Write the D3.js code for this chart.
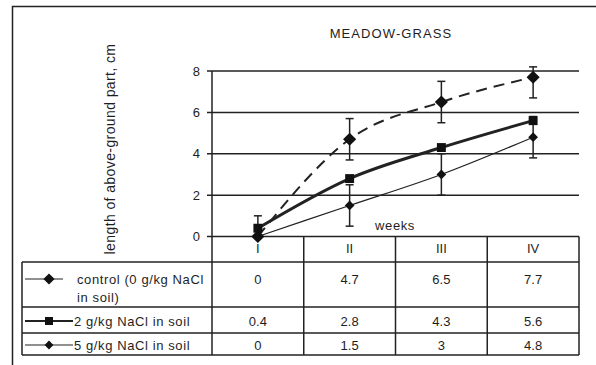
<!DOCTYPE html>
<html>
<head>
<meta charset="utf-8">
<script src="https://cdn.jsdelivr.net/npm/d3@7"></script>
<style>
  body { margin: 0; background: #fff; }
  svg { display: block; font-family: "Liberation Sans", Arial, sans-serif; }
</style>
</head>
<body>
<div class="chart"></div>
<script>
// data
const weeks = ['I', 'II', 'III', 'IV'];
const seriesNames = [['control (0 g/kg NaCl', 'in soil)'], ['2 g/kg NaCl in soil'], ['5 g/kg NaCl in soil']];
const control = [0, 4.7, 6.5, 7.7];
const nacl2 = [0.4, 2.8, 4.3, 5.6];
const nacl5 = [0, 1.5, 3, 4.8];
const controlLow = [0, 3.7, 5.5, 6.7];
const controlHigh = [1, 5.7, 7.5, 8.2];
const nacl5Low = [null, 0.5, 2, 3.8];
const nacl5High = [null, 2.5, 4, 5.8];
const yTicks = [0, 2, 4, 6, 8];

const w = 596, h = 365;
const plot = { left: 212, right: 579, top: 71, bottom: 236.5 };
const tableLeft = 22;
const rowLines = [262, 307, 333, 355];   // header bottom, row bottoms
const ink = '#222';
const textCol = '#1e1e1e';

const svg = d3.select('.chart').append('svg')
  .attr('width', w).attr('height', h);

// outer frame (cut off on the right and bottom)
svg.append('rect')
  .attr('x', 12.5).attr('y', 6.5)
  .attr('width', 700).attr('height', 500)
  .attr('fill', 'none').attr('stroke', ink).attr('stroke-width', 1.5);

const x = d3.scaleBand().domain(weeks).range([plot.left, plot.right]);
const y = d3.scaleLinear().domain([0, 8]).range([plot.bottom, plot.top]);
const cx = d => x(d) + x.bandwidth() / 2;

// title
svg.append('text')
  .attr('x', 391).attr('y', 38)
  .attr('text-anchor', 'middle')
  .style('font-size', '13px').style('letter-spacing', '1.1px')
  .attr('fill', textCol)
  .text('MEADOW-GRASS');

// y axis title
svg.append('text')
  .attr('transform', 'translate(115,149) rotate(-90)')
  .attr('text-anchor', 'middle')
  .style('font-size', '14px').style('letter-spacing', '0.4px')
  .attr('fill', textCol)
  .text('length of above-ground part, cm');

// gridlines
svg.append('g').selectAll('line')
  .data(yTicks)
  .enter().append('line')
  .attr('x1', plot.left - 5).attr('x2', plot.right)
  .attr('y1', d => y(d)).attr('y2', d => y(d))
  .attr('stroke', ink).attr('stroke-width', 1.5);

const yAxis = d3.axisLeft(y).tickValues(yTicks).tickSize(0).tickPadding(12);
const gy = svg.append('g')
  .attr('transform', `translate(${plot.left}, 0)`)
  .call(yAxis);
gy.select('.domain').remove();
gy.selectAll('text')
  .style('font-size', '13px')
  .style('font-family', '"Liberation Sans", Arial, sans-serif')
  .attr('fill', textCol);

// y axis line running down through the table
svg.append('line')
  .attr('x1', plot.left).attr('x2', plot.left)
  .attr('y1', plot.top).attr('y2', rowLines[3])
  .attr('stroke', ink).attr('stroke-width', 1.5);

// x axis label
svg.append('text')
  .attr('x', 395).attr('y', 230)
  .attr('text-anchor', 'middle')
  .style('font-size', '13px').style('letter-spacing', '0.6px')
  .attr('fill', textCol)
  .text('weeks');

// table lines
const table = svg.append('g').attr('stroke', ink).attr('stroke-width', 1.5);
rowLines.forEach(ry => {
  table.append('line')
    .attr('x1', tableLeft).attr('x2', plot.right)
    .attr('y1', ry).attr('y2', ry);
});
table.append('line')
  .attr('x1', tableLeft).attr('x2', tableLeft)
  .attr('y1', rowLines[0]).attr('y2', rowLines[3]);
table.selectAll('.sep')
  .data(weeks.slice(1).concat(['end']))
  .enter().append('line')
  .attr('x1', d => d === 'end' ? plot.right : x(d))
  .attr('x2', d => d === 'end' ? plot.right : x(d))
  .attr('y1', plot.bottom).attr('y2', rowLines[3]);

// category labels
svg.append('g').selectAll('text')
  .data(weeks)
  .enter().append('text')
  .attr('x', d => cx(d)).attr('y', 253)
  .attr('text-anchor', 'middle')
  .style('font-size', '13px')
  .attr('fill', textCol)
  .text(d => d);

// series
const series = [
  { values: control, low: controlLow, high: controlHigh, width: 2, dash: '11,7', marker: 'diamond', size: 110 },
  { values: nacl2, low: null, high: null, width: 3, dash: null, marker: 'square', size: 80 },
  { values: nacl5, low: nacl5Low, high: nacl5High, width: 1.2, dash: null, marker: 'diamond', size: 60 }
];
const symbolOf = s => s.marker === 'square' ? d3.symbolSquare : d3.symbolDiamond2;

// error bars
series.forEach(s => {
  if (!s.low) return;
  const g = svg.append('g').attr('stroke', ink).attr('stroke-width', 1.5);
  weeks.forEach((wk, i) => {
    if (s.low[i] === null) return;
    const lo = Math.max(0, s.low[i]);
    g.append('line').attr('x1', cx(wk)).attr('x2', cx(wk))
      .attr('y1', y(lo)).attr('y2', y(s.high[i]));
    g.append('line').attr('x1', cx(wk) - 4).attr('x2', cx(wk) + 4)
      .attr('y1', y(s.high[i])).attr('y2', y(s.high[i]));
    if (s.low[i] > 0) {
      g.append('line').attr('x1', cx(wk) - 4).attr('x2', cx(wk) + 4)
        .attr('y1', y(s.low[i])).attr('y2', y(s.low[i]));
    }
  });
});

const line = d3.line()
  .x((d, i) => cx(weeks[i]))
  .y(d => y(d))
  .curve(d3.curveMonotoneX);

series.forEach(s => {
  svg.append('path')
    .datum(s.values)
    .attr('d', line)
    .attr('fill', 'none')
    .attr('stroke', ink)
    .attr('stroke-width', s.width)
    .attr('stroke-dasharray', s.dash);
  svg.append('g').selectAll('path')
    .data(s.values)
    .enter().append('path')
    .attr('transform', (d, i) => `translate(${cx(weeks[i])},${y(d)})`)
    .attr('d', d3.symbol().type(symbolOf(s)).size(s.size))
    .attr('fill', '#111');
});

// legend rows in the table
const rowText = [279, 321, 345];
const legendLineEnd = [63, 73, 73];
series.forEach((s, r) => {
  const ry = rowText[r];
  svg.append('line')
    .attr('x1', 25).attr('x2', legendLineEnd[r])
    .attr('y1', ry).attr('y2', ry)
    .attr('stroke', ink)
    .attr('stroke-width', r === 1 ? 2.2 : 1.2);
  svg.append('path')
    .attr('transform', `translate(49,${ry})`)
    .attr('d', d3.symbol().type(symbolOf(s)).size(r === 1 ? 64 : (r === 0 ? 80 : 50)))
    .attr('fill', '#111');
  const t = svg.append('text')
    .attr('x', r === 0 ? 77 : 74).attr('y', ry + 4.5)
    .style('font-size', '13px').style('letter-spacing', '0.6px')
    .attr('fill', textCol);
  seriesNames[r].forEach((part, k) => {
    t.append('tspan')
      .attr('x', r === 0 ? 77 : 74)
      .attr('dy', k === 0 ? 0 : 18)
      .text(part);
  });
  svg.append('g').selectAll('text')
    .data(s.values)
    .enter().append('text')
    .attr('x', (d, i) => cx(weeks[i]))
    .attr('y', ry + 4.5)
    .attr('text-anchor', 'middle')
    .style('font-size', '13px')
    .attr('fill', textCol)
    .text(d => d);
});
</script>
</body>
</html>
